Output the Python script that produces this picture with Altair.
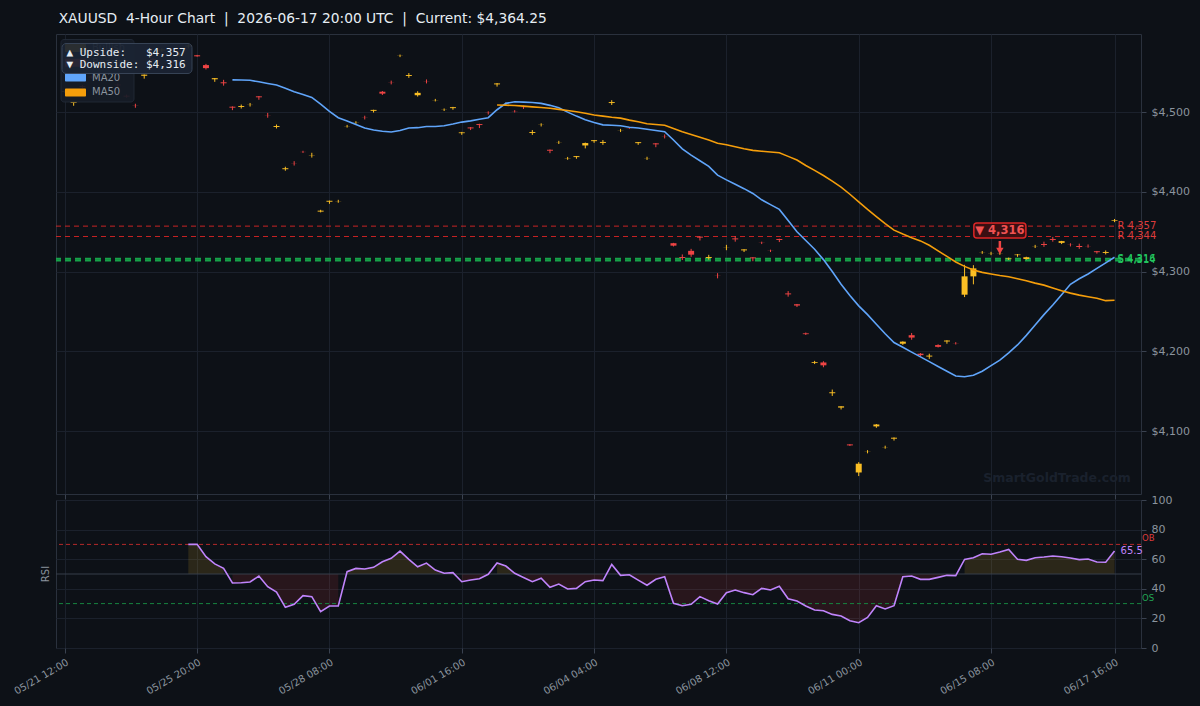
import altair as alt
import pandas as pd

# ---------------- data ----------------
# 4-hour XAUUSD bars, x is the bar index (weekend gaps are skipped)
opens = [
    4525.2, 4511.6, 4532.8, 4544.6, 4551.4, 4560.8, 4534.6, 4520.6, 4508.1, 4545.6,
    4566.8, 4577.4, 4562.8, 4571.4, 4582.4, 4571.3, 4559.0, 4541.2, 4537.4, 4506.8,
    4506.4, 4508.9, 4519.8, 4496.1, 4481.4, 4428.4, 4435.7, 4450.1, 4445.9, 4375.2,
    4387.6, 4387.9, 4482.3, 4486.9, 4493.1, 4501.6, 4525.6, 4537.1, 4570.5, 4545.4,
    4521.2, 4538.6, 4514.9, 4502.9, 4505.0, 4473.6, 4480.8, 4485.0, 4499.1, 4534.8,
    4509.9, 4501.1, 4506.1, 4473.9, 4483.9, 4452.8, 4461.9, 4441.9, 4443.6, 4458.2,
    4463.6, 4461.4, 4511.4, 4476.9, 4480.1, 4461.1, 4441.9, 4460.8, 4469.6, 4335.6,
    4318.3, 4326.0, 4343.8, 4317.1, 4295.1, 4329.9, 4341.6, 4326.6, 4317.8, 4336.1,
    4326.1, 4340.8, 4272.6, 4259.0, 4222.5, 4185.5, 4186.0, 4147.4, 4129.4, 4083.2,
    4048.0, 4073.9, 4105.8, 4079.6, 4090.4, 4209.5, 4220.2, 4197.0, 4193.4, 4207.8,
    4212.3, 4210.1, 4271.0, 4294.0, 4323.9, 4322.6, 4322.9, 4315.6, 4320.6, 4315.8,
    4331.4, 4334.6, 4340.9, 4336.0, 4333.6, 4332.1, 4332.1, 4325.5, 4323.4, 4363.4,
]
highs = [
    4527.5, 4513.0, 4534.0, 4546.0, 4553.5, 4562.0, 4536.0, 4522.0, 4510.5, 4547.2,
    4568.0, 4580.0, 4564.5, 4574.0, 4585.0, 4571.8, 4560.5, 4542.8, 4540.5, 4507.2,
    4509.5, 4511.5, 4520.2, 4499.0, 4484.5, 4431.5, 4438.5, 4451.5, 4449.0, 4377.5,
    4389.0, 4390.0, 4484.0, 4488.6, 4495.5, 4503.0, 4526.5, 4539.5, 4572.2, 4549.0,
    4526.2, 4541.0, 4516.6, 4504.6, 4506.6, 4475.2, 4481.2, 4485.4, 4501.0, 4536.5,
    4512.0, 4502.5, 4508.0, 4477.5, 4486.0, 4453.2, 4464.0, 4443.8, 4445.0, 4461.8,
    4465.0, 4465.0, 4515.0, 4479.0, 4481.0, 4462.5, 4444.0, 4461.2, 4472.0, 4336.0,
    4321.5, 4328.5, 4344.2, 4321.0, 4298.0, 4333.5, 4344.5, 4328.0, 4318.2, 4337.5,
    4327.5, 4341.2, 4275.5, 4259.4, 4223.5, 4188.0, 4187.5, 4152.0, 4131.0, 4083.5,
    4061.0, 4076.0, 4108.8, 4081.6, 4092.0, 4212.5, 4223.0, 4197.8, 4197.0, 4208.8,
    4213.8, 4211.5, 4308.5, 4308.0, 4325.8, 4324.8, 4325.0, 4317.5, 4322.0, 4318.6,
    4333.5, 4337.5, 4343.5, 4338.5, 4335.5, 4335.0, 4334.0, 4325.9, 4326.5, 4366.0,
]
lows = [
    4523.8, 4508.0, 4530.0, 4542.0, 4549.5, 4558.0, 4531.5, 4518.0, 4505.5, 4542.0,
    4564.0, 4575.5, 4560.0, 4569.5, 4580.0, 4569.5, 4553.5, 4538.0, 4533.2, 4502.5,
    4504.5, 4507.0, 4515.5, 4493.0, 4479.5, 4426.5, 4433.0, 4448.8, 4443.0, 4374.2,
    4385.0, 4386.3, 4480.6, 4485.2, 4490.8, 4499.5, 4521.5, 4534.8, 4569.0, 4543.0,
    4519.5, 4536.0, 4513.4, 4501.4, 4503.0, 4471.5, 4477.5, 4480.0, 4497.0, 4532.0,
    4508.0, 4499.5, 4504.0, 4471.5, 4482.0, 4448.5, 4460.0, 4440.2, 4441.5, 4454.5,
    4461.5, 4459.0, 4509.0, 4475.0, 4479.0, 4459.0, 4440.0, 4456.0, 4467.0, 4331.5,
    4314.5, 4318.5, 4339.0, 4315.0, 4291.5, 4326.8, 4337.5, 4324.5, 4313.0, 4334.5,
    4324.5, 4337.0, 4268.5, 4255.5, 4220.5, 4184.0, 4180.0, 4144.0, 4127.0, 4081.2,
    4043.5, 4072.0, 4104.0, 4077.8, 4088.0, 4208.0, 4214.5, 4193.8, 4190.5, 4204.8,
    4209.5, 4208.5, 4268.0, 4284.0, 4322.2, 4320.6, 4321.0, 4314.5, 4318.5, 4315.0,
    4329.5, 4331.0, 4337.5, 4334.5, 4331.5, 4328.5, 4330.0, 4322.5, 4321.5, 4362.0,
]
closes = [
    4526.6, 4512.8, 4531.6, 4543.6, 4552.6, 4559.6, 4533.6, 4519.4, 4507.9, 4547.0,
    4565.6, 4578.6, 4561.6, 4572.6, 4583.6, 4570.0, 4555.2, 4542.6, 4536.2, 4505.6,
    4507.6, 4509.1, 4518.6, 4495.9, 4482.6, 4429.6, 4435.5, 4449.9, 4446.1, 4376.4,
    4388.8, 4388.1, 4482.5, 4487.1, 4492.9, 4502.8, 4523.2, 4536.9, 4570.7, 4546.6,
    4524.2, 4538.4, 4515.1, 4503.1, 4506.2, 4474.6, 4479.6, 4483.8, 4498.9, 4536.0,
    4510.1, 4500.9, 4505.9, 4475.1, 4484.1, 4451.6, 4462.1, 4442.1, 4444.8, 4461.2,
    4464.8, 4462.6, 4512.6, 4477.1, 4479.9, 4462.3, 4442.1, 4459.6, 4469.4, 4332.5,
    4317.1, 4321.2, 4342.6, 4318.3, 4294.9, 4330.1, 4340.4, 4327.8, 4316.6, 4335.9,
    4325.9, 4339.6, 4271.4, 4257.4, 4221.5, 4186.5, 4182.4, 4148.6, 4131.0, 4082.0,
    4059.0, 4074.1, 4108.2, 4079.8, 4091.6, 4212.1, 4217.2, 4195.2, 4194.6, 4205.6,
    4213.5, 4209.9, 4294.0, 4304.0, 4324.1, 4322.8, 4323.1, 4316.4, 4321.4, 4318.0,
    4331.6, 4333.4, 4339.7, 4338.2, 4333.4, 4330.9, 4331.9, 4324.3, 4324.6, 4364.25,
]

MA20_START = 19
ma20 = [
    4540.5, 4540.3, 4540.0, 4538.0, 4536.0, 4534.0, 4530.0, 4525.5, 4522.0, 4518.5,
    4510.0, 4501.0, 4493.0, 4489.0, 4484.5, 4480.0, 4477.5, 4476.0, 4475.0, 4477.0,
    4480.0, 4480.5, 4482.0, 4482.0, 4483.0, 4485.0, 4487.5, 4489.0, 4491.0, 4493.0,
    4503.0, 4511.0, 4513.0, 4512.5, 4512.0, 4511.0, 4508.5, 4505.5, 4500.0, 4495.0,
    4490.5, 4487.0, 4484.0, 4483.5, 4483.0, 4481.0, 4480.0, 4478.5, 4477.0, 4475.5,
    4465.0, 4454.0, 4446.0, 4439.0, 4432.0, 4421.0, 4415.0, 4409.5, 4404.0, 4398.0,
    4390.0, 4384.0, 4378.0, 4364.0, 4350.0, 4339.0, 4328.0, 4315.0, 4300.0, 4284.0,
    4270.0, 4257.0, 4246.0, 4234.0, 4222.0, 4211.0, 4205.0, 4199.0, 4193.0, 4187.0,
    4181.0, 4175.0, 4169.0, 4168.0, 4170.0, 4175.0, 4182.0, 4189.0, 4198.0, 4208.0,
    4220.0, 4233.0, 4246.0, 4258.0, 4271.0, 4284.0, 4291.0, 4297.0, 4304.0, 4311.0,
    4318.0,
]

MA50_START = 49
ma50 = [
    4509.0, 4508.7, 4508.3, 4507.5, 4506.6, 4505.8, 4504.8, 4503.5, 4502.0, 4500.5,
    4498.5, 4496.5, 4495.0, 4493.5, 4492.5, 4490.0, 4488.0, 4485.5, 4484.5, 4483.5,
    4479.5, 4475.5, 4472.0, 4468.5, 4465.0, 4461.0, 4459.0, 4456.5, 4454.0, 4452.0,
    4451.0, 4450.0, 4449.0, 4444.5, 4440.0, 4433.0, 4427.0, 4420.5, 4413.5, 4406.0,
    4397.0, 4387.5, 4378.0, 4369.0, 4360.0, 4352.0, 4347.0, 4342.5, 4338.5, 4333.0,
    4326.0, 4319.0, 4312.0, 4306.5, 4302.0, 4299.0, 4297.0, 4295.0, 4293.5, 4291.0,
    4288.5, 4285.5, 4283.0, 4279.5, 4276.0, 4273.0, 4270.5, 4268.5, 4266.5, 4263.5,
    4264.0,
]

RSI_START = 14
rsi = [
    70.0, 70.0, 61.7, 56.8, 53.8, 43.9, 44.1, 44.6, 48.6, 41.4,
    37.8, 27.5, 29.5, 35.4, 34.7, 24.5, 28.4, 28.4, 51.6, 53.8,
    53.4, 54.5, 58.3, 60.6, 65.5, 59.9, 54.9, 57.4, 52.7, 50.5,
    50.9, 44.8, 45.9, 46.8, 49.8, 57.4, 55.4, 50.5, 47.7, 44.8,
    47.1, 41.0, 43.2, 39.9, 40.3, 44.8, 45.9, 45.5, 56.5, 49.1,
    49.5, 45.9, 42.4, 46.4, 48.2, 30.2, 28.6, 29.5, 34.7, 32.0,
    29.7, 37.4, 39.2, 37.4, 36.0, 40.3, 39.2, 41.7, 33.3, 31.8,
    28.4, 25.7, 25.2, 22.7, 21.6, 18.4, 17.1, 20.7, 28.6, 26.4,
    28.6, 48.2, 48.6, 46.4, 46.4, 47.7, 49.1, 48.9, 59.9, 61.0,
    63.7, 63.3, 64.8, 66.6, 59.9, 59.2, 61.0, 61.5, 62.2, 61.7,
    60.8, 59.7, 60.1, 58.1, 57.9, 65.5,
]

tick_idx = [0, 15, 30, 45, 60, 75, 90, 105, 119]
tick_labels = ["05/21 12:00", "05/25 20:00", "05/28 08:00", "06/01 16:00", "06/04 04:00",
               "06/08 12:00", "06/11 00:00", "06/15 08:00", "06/17 16:00"]
price_ticks = [4100, 4200, 4300, 4400, 4500]
rsi_ticks = [0, 20, 40, 60, 80, 100]
resistance = [4357, 4344]
support = [4316, 4314]
rsi_mid, rsi_ob, rsi_os = 50, 70, 30
signal_bar = 106          # bar carrying the downside marker
upside, downside = 4357, 4316
title_text = "XAUUSD\u00a0\u00a04-Hour Chart\u00a0\u00a0|\u00a0\u00a02026-06-17 20:00 UTC\u00a0\u00a0|\u00a0\u00a0Current: $4,364.25"

# ---------------- style ----------------
BG = "#0d1117"
GRID = "#1b212c"
TXT = "#8b949e"
BULL = "#fbbf24"
BEAR = "#ef4444"
MA20C = "#60a5fa"
MA50C = "#f59e0b"
RSIC = "#c084fc"
FONT = "DejaVu Sans"
MONO = "DejaVu Sans Mono"
W = 1085
H_PRICE = 460
H_RSI = 148

# ---------------- frames ----------------
n = len(closes)
cdf = pd.DataFrame({"i": range(n), "o": opens, "h": highs, "l": lows, "c": closes})
cdf["kind"] = ["Bullish" if c >= o else "Bearish" for o, c in zip(opens, closes)]
cdf["lo"] = cdf[["o", "c"]].min(axis=1)
cdf["hi"] = cdf[["o", "c"]].max(axis=1)

ma20_df = pd.DataFrame({"i": range(MA20_START, MA20_START + len(ma20)), "v": ma20})
ma50_df = pd.DataFrame({"i": range(MA50_START, MA50_START + len(ma50)), "v": ma50})

rdf = pd.DataFrame({"i": range(RSI_START, RSI_START + len(rsi)), "rsi": rsi})
rdf["up"] = rdf["rsi"] >= rsi_mid
rdf["seg"] = (rdf["up"] != rdf["up"].shift()).cumsum()
rdf["base"] = rsi_mid
last_rsi = rdf.tail(1).copy()
last_rsi["label"] = f"{rsi[-1]:.1f}"

res_df = pd.DataFrame({"level": resistance})
res_df["label"] = [f"R {v:,}" for v in resistance]
sup_df = pd.DataFrame({"level": support})
sup_df["label"] = [f"S {v:,}" for v in support]

mid_df = pd.DataFrame({"level": [rsi_mid]})
ob_df = pd.DataFrame({"level": [rsi_ob], "label": ["OB"]})
os_df = pd.DataFrame({"level": [rsi_os], "label": ["OS"]})

one = pd.DataFrame({"_": [0]})

# ---------------- scales / axes ----------------
x_scale = alt.Scale(domain=[-1, 122], nice=False, zero=False, padding=0)
label_expr = ("[" + ",".join(f"'{s}'" for s in tick_labels) + "][indexof(["
              + ",".join(str(t) for t in tick_idx) + "], datum.value)]")

x_top_axis = alt.Axis(values=tick_idx, labels=False, ticks=True, tickSize=5,
                      grid=True, domain=False)
x_bot_axis = alt.Axis(values=tick_idx, labelExpr=label_expr, labelAngle=-30,
                      labelAlign="right", labelBaseline="top", labelFontSize=10,
                      labelPadding=4, ticks=True, tickSize=5, grid=True, domain=False)

def xp(field="i"):
    return alt.X(f"{field}:Q", scale=x_scale, axis=x_top_axis, title=None)

def xr(field="i"):
    return alt.X(f"{field}:Q", scale=x_scale, axis=x_bot_axis, title=None)

p_scale = alt.Scale(domain=[4021, 4598], nice=False, zero=False, padding=0)
p_axis = alt.Axis(orient="right", values=price_ticks, title=None,
                  labelExpr="'$' + format(datum.value, ',')", tickSize=5,
                  labelPadding=5, labelFontSize=11, grid=True, domain=False)

def yp(field):
    return alt.Y(f"{field}:Q", scale=p_scale, axis=p_axis, title=None)

r_scale = alt.Scale(domain=[0, 100], nice=False, zero=False, padding=0)
r_axis = alt.Axis(orient="right", values=rsi_ticks, title=None, tickSize=5,
                  labelPadding=5, labelFontSize=11, labelOverlap=False, labelBound=False,
                  tickCount=6, grid=True, domain=False)

def yr(field):
    return alt.Y(f"{field}:Q", scale=r_scale, axis=r_axis, title=None)

candle_color = alt.Color("kind:N", scale=alt.Scale(domain=["Bullish", "Bearish"],
                                                   range=[BULL, BEAR]), legend=None)

# ---------------- price panel ----------------
res_rules = alt.Chart(res_df).mark_rule(color="#dc2626", strokeWidth=1,
                                        strokeDash=[5, 4], opacity=0.9).encode(y=yp("level"))
sup_rules = alt.Chart(sup_df).mark_rule(color="#16a34a", strokeWidth=2,
                                        strokeDash=[6, 4]).encode(y=yp("level"))

wicks = alt.Chart(cdf).mark_rule(strokeWidth=1).encode(
    x=xp(), y=yp("l"), y2="h:Q", color=candle_color)
bodies = alt.Chart(cdf).mark_bar(size=6).encode(
    x=xp(), y=yp("lo"), y2="hi:Q", color=candle_color)

ma20_line = alt.Chart(ma20_df).mark_line(color=MA20C, strokeWidth=1.6).encode(x=xp(), y=yp("v"))
ma50_line = alt.Chart(ma50_df).mark_line(color=MA50C, strokeWidth=1.6).encode(x=xp(), y=yp("v"))

res_text = alt.Chart(res_df).mark_text(align="left", baseline="middle", dx=3,
                                       fontSize=10, font=FONT, color="#dc3c3c").encode(
    x=alt.datum(119), y=yp("level"), text="label:N")
sup_text = alt.Chart(sup_df).mark_text(align="left", baseline="middle", dx=3,
                                       fontSize=10, font=FONT, color="#22c55e").encode(
    x=alt.datum(119), y=yp("level"), text="label:N")

# downside marker above the signal bar
marker_box = alt.Chart(one).mark_rect(fill="#3a0f12", stroke="#dc2626", strokeWidth=1.5,
                                      cornerRadius=3).encode(
    x=alt.datum(signal_bar - 2.95), x2=alt.datum(signal_bar + 2.95),
    y=alt.value(189), y2=alt.value(204))
marker_text = alt.Chart(one).mark_text(align="center", baseline="middle", fontSize=11.5,
                                       fontWeight="bold", font=FONT, color="#f05252").encode(
    x=alt.datum(signal_bar), y=alt.value(196.5), text=alt.value(f"\u25bc {downside:,}"))
marker_shaft = alt.Chart(one).mark_rule(color="#ef4444", strokeWidth=2.5).encode(
    x=alt.datum(signal_bar), y=alt.value(207), y2=alt.value(215))
marker_head = alt.Chart(one).mark_point(shape="triangle-down", filled=True, size=55,
                                        color="#ef4444", opacity=1).encode(
    x=alt.datum(signal_bar), y=alt.value(217))

# legend panel
legend_items = [("Bullish", BULL), ("Bearish", BEAR), ("MA20", MA20C), ("MA50", MA50C)]
legend_layers = [alt.Chart(one).mark_rect(fill="#161c27", stroke="#222a37", cornerRadius=3,
                                          opacity=0.92).encode(
    x=alt.value(5), x2=alt.value(78), y=alt.value(5.5), y2=alt.value(68))]
for k, (name, col) in enumerate(legend_items):
    yc = 14 + 14.8 * k
    legend_layers.append(alt.Chart(one).mark_rect(fill=col, cornerRadius=1).encode(
        x=alt.value(9), x2=alt.value(30), y=alt.value(yc - 4), y2=alt.value(yc + 4)))
    legend_layers.append(alt.Chart(one).mark_text(align="left", baseline="middle", fontSize=10,
                                                  font=FONT, color=TXT).encode(
        x=alt.value(36), y=alt.value(yc), text=alt.value(name)))

# upside / downside readout
NB = "\u00a0"
info_layers = [
    alt.Chart(one).mark_rect(fill="#1b2433", stroke="#3a475a", strokeWidth=1,
                             cornerRadius=4, opacity=0.93).encode(
        x=alt.value(6), x2=alt.value(136), y=alt.value(9.5), y2=alt.value(39.5)),
    alt.Chart(one).mark_text(align="left", baseline="middle", fontSize=11, font=MONO,
                             color="#e6edf3").encode(
        x=alt.value(10.5), y=alt.value(18.5),
        text=alt.value(f"\u25b2 Upside:{NB * 3}${upside:,}")),
    alt.Chart(one).mark_text(align="left", baseline="middle", fontSize=11, font=MONO,
                             color="#e6edf3").encode(
        x=alt.value(10.5), y=alt.value(30.5),
        text=alt.value(f"\u25bc Downside:{NB}${downside:,}")),
]

watermark = alt.Chart(one).mark_text(align="center", baseline="middle", fontSize=12.5,
                                     fontWeight="bold", font=FONT, color="#1a212d").encode(
    x=alt.value(1001), y=alt.value(444), text=alt.value("SmartGoldTrade.com"))

price = alt.layer(
    res_rules, sup_rules, wicks, bodies, ma20_line, ma50_line, res_text, sup_text,
    watermark, marker_box, marker_text, marker_shaft, marker_head,
    *legend_layers, *info_layers,
).properties(width=W, height=H_PRICE)

# ---------------- RSI panel ----------------
up_fill = alt.Chart(rdf).transform_filter("datum.up").mark_area(
    color=BULL, opacity=0.13).encode(x=xr(), y=yr("rsi"), y2="base:Q", detail="seg:N")
dn_fill = alt.Chart(rdf).transform_filter("!datum.up").mark_area(
    color=BEAR, opacity=0.12).encode(x=xr(), y=yr("rsi"), y2="base:Q", detail="seg:N")

mid_rule = alt.Chart(mid_df).mark_rule(color="#363e4b", strokeWidth=1).encode(y=yr("level"))
ob_rule = alt.Chart(ob_df).mark_rule(color="#b42a2a", strokeWidth=1,
                                     strokeDash=[4, 3]).encode(y=yr("level"))
os_rule = alt.Chart(os_df).mark_rule(color="#17843f", strokeWidth=1,
                                     strokeDash=[4, 3]).encode(y=yr("level"))

rsi_line = alt.Chart(rdf).mark_line(color=RSIC, strokeWidth=1.6).encode(x=xr(), y=yr("rsi"))

rsi_last = alt.Chart(last_rsi).mark_text(align="left", baseline="middle", dx=6, fontSize=10,
                                         font=FONT, color=RSIC).encode(
    x=xr(), y=yr("rsi"), text="label:N")
ob_text = alt.Chart(ob_df).mark_text(align="left", baseline="middle", dy=-6, fontSize=8.5,
                                     font=FONT, color="#dc3c3c").encode(
    x=alt.value(W + 1), y=yr("level"), text="label:N")
os_text = alt.Chart(os_df).mark_text(align="left", baseline="middle", dy=-6, fontSize=8.5,
                                     font=FONT, color="#22a655").encode(
    x=alt.value(W + 1), y=yr("level"), text="label:N")
rsi_title = alt.Chart(one).mark_text(angle=270, align="center", baseline="middle",
                                     fontSize=10, font=FONT, color=TXT).encode(
    x=alt.value(-10), y=alt.value(74), text=alt.value("RSI"))

rsi_panel = alt.layer(
    up_fill, dn_fill, mid_rule, ob_rule, os_rule, rsi_line, rsi_last,
    ob_text, os_text, rsi_title
).properties(width=W, height=H_RSI)

chart = alt.vconcat(price, rsi_panel, spacing=6, bounds="flush").properties(
    title=alt.Title(title_text, anchor="start", fontSize=13.8, fontWeight="normal",
                    color="#e6edf3", font=FONT, offset=-6, dx=47, baseline="bottom"),
    padding={"left": 11, "top": 11, "right": 10, "bottom": 10},
).configure(background=BG).configure_view(
    stroke="#2a313d", strokeWidth=1, fill=BG
).configure_axis(
    gridColor=GRID, gridWidth=1, tickColor="#3a4250", labelColor=TXT, labelFont=FONT,
    domain=False,
)

chart.save("out.html", embed_options={"renderer": "svg", "actions": False})
